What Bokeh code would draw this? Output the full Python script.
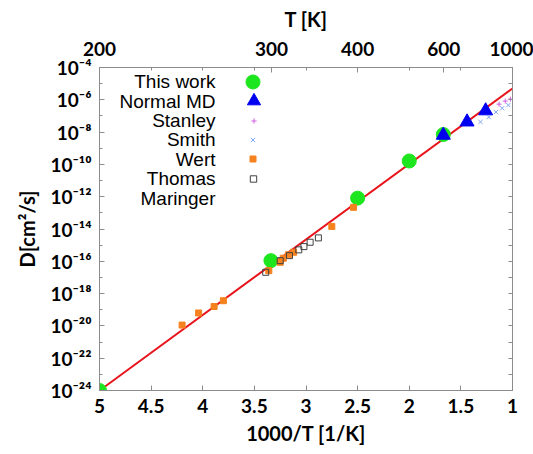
from bokeh.plotting import figure
from bokeh.models import (Range1d, FixedTicker, LogAxis, LinearAxis, Legend, LegendItem, Label)
from bokeh.core.properties import value
from bokeh.embed import file_html
from bokeh.resources import INLINE

# ---- data ----
this_work_x = [5.0, 3.34, 2.50, 2.00, 1.67]
this_work_y = [1e-24, 10**-15.96, 10**-12.09, 10**-9.79, 10**-8.15]

normal_md_x = [1.67, 1.44, 1.26]
normal_md_y = [10**-8.19, 10**-7.37, 10**-6.68]

stanley_x = [1.13, 1.07, 1.02]
stanley_y = [10**-6.27, 10**-6.08, 10**-5.96]

smith_x = [1.31, 1.23, 1.16, 1.10, 1.04]
smith_y = [10**-7.37, 10**-7.07, 10**-6.76, 10**-6.52, 10**-6.33]

wert_x = [2.54, 2.75, 3.12, 3.17, 3.22, 3.25, 3.36, 3.80, 3.89, 4.04, 4.20]
wert_y = [10**-12.66, 10**-13.84, 10**-15.44, 10**-15.60, 10**-15.81, 10**-16.06,
          10**-16.58, 10**-18.44, 10**-18.80, 10**-19.20, 10**-19.95]

thomas_x = [2.88, 2.96, 3.02, 3.07, 3.16, 3.25, 3.39]
thomas_y = [10**-14.55, 10**-14.82, 10**-15.09, 10**-15.29, 10**-15.65, 10**-15.96, 10**-16.68]

maringer_x = []
maringer_y = []

fit_x = [5.0, 1.0]
fit_y = [1e-24, 10**-5.30]

series_names = ["This work", "Normal MD", "Stanley", "Smith", "Wert", "Thomas", "Maringer"]

x_ticks = [5, 4.5, 4, 3.5, 3, 2.5, 2, 1.5, 1]
x_tick_labels = ["5", "4.5", "4", "3.5", "3", "2.5", "2", "1.5", "1"]

T_ticks = [200, 300, 400, 600, 1000]
T_tick_labels = ["200", "300", "400", "600", "1000"]

y_ticks = [1e-4, 1e-6, 1e-8, 1e-10, 1e-12, 1e-14, 1e-16, 1e-18, 1e-20, 1e-22, 1e-24]
y_tick_labels = ["10⁻⁴", "10⁻⁶", "10⁻⁸", "10⁻¹⁰", "10⁻¹²", "10⁻¹⁴", "10⁻¹⁶",
                 "10⁻¹⁸", "10⁻²⁰", "10⁻²²", "10⁻²⁴"]
y_minor = [10.0**(-k) for k in range(5, 24, 2)]
y_all = [10.0**(-k) for k in range(4, 25)]

FONT = "Lato"
TICK_FS = "19px"
LABEL_FS = "20px"
AXIS_COLOR = "#8c8c8c"
FRAME_H = 323

p = figure(width=533, height=454, y_axis_type="log",
           x_range=Range1d(5, 1), y_range=Range1d(1e-24, 1e-4),
           output_backend="svg", toolbar_location=None,
           min_border_left=99, min_border_right=21, min_border_top=67, min_border_bottom=64)
p.xgrid.visible = False
p.ygrid.visible = False
p.outline_line_color = AXIS_COLOR
p.background_fill_color = "white"
p.border_fill_color = "white"

def style_axis(ax):
    ax.axis_line_color = AXIS_COLOR
    ax.major_tick_line_color = AXIS_COLOR
    ax.minor_tick_line_color = AXIS_COLOR
    ax.major_tick_out = 0
    ax.major_tick_in = 5
    ax.minor_tick_out = 0
    ax.minor_tick_in = 3
    ax.major_label_text_font = FONT
    ax.major_label_text_font_style = "bold"
    ax.major_label_text_font_size = TICK_FS
    ax.major_label_text_color = "black"
    ax.axis_label_text_font = FONT
    ax.axis_label_text_font_style = "bold"
    ax.axis_label_text_font_size = LABEL_FS
    ax.axis_label_text_color = "black"

# bottom axis
xa = p.xaxis[0]
style_axis(xa)
xa.ticker = FixedTicker(ticks=x_ticks)
xa.major_label_overrides = {t: l for t, l in zip(x_ticks, x_tick_labels)}
xa.axis_label = "1000/T [1/K]"
xa.major_label_standoff = 8
xa.axis_label_standoff = 5

# left axis
ya = p.yaxis[0]
style_axis(ya)
ya.ticker = FixedTicker(ticks=y_ticks, minor_ticks=y_minor)
ya.major_label_overrides = {t: l for t, l in zip(y_ticks, y_tick_labels)}
ya.axis_label = "D[cm²/s]"
ya.major_label_standoff = 8
ya.axis_label_standoff = 8

# top axis (temperature)
T_pos = [1000.0 / t for t in T_ticks]
ta = LinearAxis(ticker=FixedTicker(ticks=T_pos, minor_ticks=[4.5, 4, 3.5, 3, 2, 1.5]))
style_axis(ta)
ta.major_label_overrides = {t: l for t, l in zip(T_pos, T_tick_labels)}
ta.axis_label = "T [K]"
ta.major_label_standoff = 12
ta.axis_label_standoff = 8
p.add_layout(ta, "above")

# right axis (ticks only)
ra = LogAxis(ticker=FixedTicker(ticks=y_all))
style_axis(ra)
ra.major_tick_in = 4
ra.major_label_overrides = {t: "" for t in y_all}
ra.major_label_standoff = 0
p.add_layout(ra, "right")

# fit line
p.line(fit_x, fit_y, line_color="#e8141c", line_width=2)

# data
r_this = p.scatter(this_work_x, this_work_y, marker="circle", size=14,
                   fill_color="#1ee61e", line_color="#1ee61e")
r_md = p.scatter(normal_md_x, normal_md_y, marker="triangle", size=14,
                 fill_color="#0000f0", line_color="#0000f0")
r_stan = p.scatter(stanley_x, stanley_y, marker="cross", size=5,
                   line_color="#d060e0", line_width=1)
r_smith = p.scatter(smith_x, smith_y, marker="x", size=6,
                    line_color="#80a8f0", line_width=1)
r_wert = p.scatter(wert_x, wert_y, marker="square", size=6,
                   fill_color="#f5821f", line_color="#f5821f")
r_thomas = p.scatter(thomas_x, thomas_y, marker="square", size=6,
                     fill_color=None, line_color="#404040", line_width=1)
r_mar = p.scatter(maringer_x, maringer_y, marker="circle", size=6,
                  fill_color=None, line_color="#f07070", line_width=1)

# legend: keys via one small legend each (own key size), names as right-aligned labels
renderers = [r_this, r_md, r_stan, r_smith, r_wert, r_thomas, r_mar]
key_widths = [35, 33, 13, 15, 15, 16, 15]
key_cx = 154       # key centre, px from frame left
text_right = 116   # right edge of names, px from frame left
first_cy = 14.2    # first row centre, px from frame top
row = 19.4
GH = 35
for i, (name, rend, gw) in enumerate(zip(series_names, renderers, key_widths)):
    cy = first_cy + i * row
    leg = Legend(items=[LegendItem(label=value(""), renderers=[rend])],
                 location=(int(round(key_cx - gw / 2)), int(round(FRAME_H - cy - GH / 2))),
                 glyph_width=gw, glyph_height=GH, padding=0, margin=0, spacing=0,
                 label_standoff=0, label_width=0, label_height=0,
                 label_text_font_size="1px",
                 border_line_color=None, background_fill_alpha=0)
    p.add_layout(leg, "center")
    p.add_layout(Label(x=text_right, y=FRAME_H - cy, x_units="screen", y_units="screen",
                       text=name, text_align="right", text_baseline="middle",
                       text_font="Liberation Sans", text_font_size="19px",
                       text_color="black"))

open("out.html", "w").write(file_html(p, INLINE))
